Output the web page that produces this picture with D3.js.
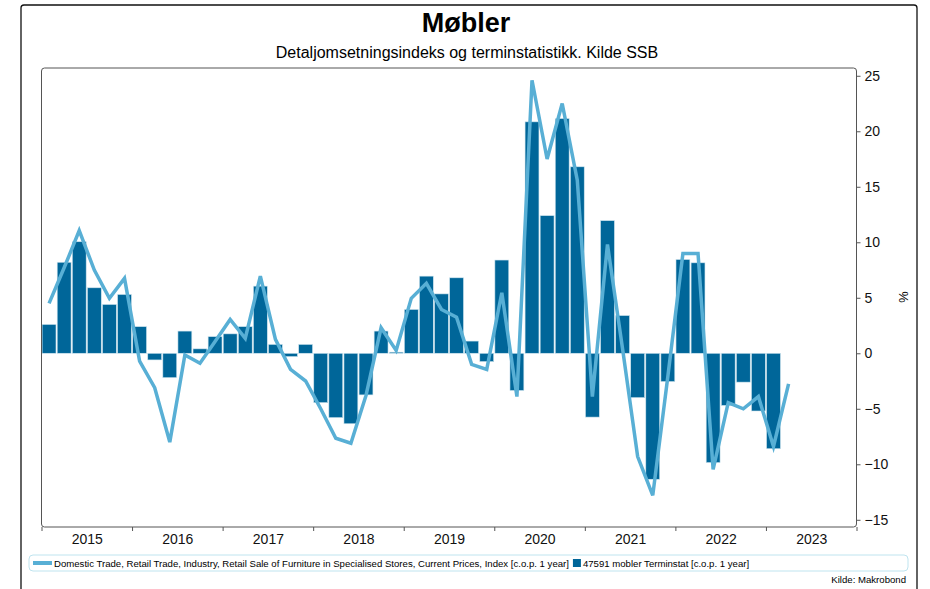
<!DOCTYPE html>
<html>
<head>
<meta charset="utf-8">
<script src="https://cdn.jsdelivr.net/npm/d3@7"></script>
<style>
  body { margin: 0; background: #fff; }
  svg { display: block; font-family: "Liberation Sans", Arial, sans-serif; }
</style>
</head>
<body>
<svg id="chart" width="930" height="589"></svg>
<script>
// years on the x axis (6 bimonthly periods per year)
const years = [2015, 2016, 2017, 2018, 2019, 2020, 2021, 2022, 2023];
const periodsPerYear = 6;

// 47591 mobler Terminstat [c.o.p. 1 year], from 2015 P1
const terminValues = [2.6, 8.2, 10.05, 5.9, 4.4, 5.3,
    2.4, -0.6, -2.2, 2.0, 0.4, 1.5,
    1.75, 2.4, 6.05, 0.8, -0.3, 0.8,
    -4.45, -5.8, -6.35, -3.75, 2.0, 0.1,
    3.95, 6.95, 5.35, 6.8, 1.1, -0.75,
    8.4, -3.35, 20.85, 12.4, 21.15, 16.8,
    -5.75, 11.95, 3.4, -4.0, -11.35, -2.55,
    8.45, 8.15, -9.85, -4.7, -2.6, -5.2,
    -8.6];

// Retail sale of furniture, index [c.o.p. 1 year], from 2015 P1
const indexValues = [4.5, 7.7, 11.05, 7.5, 4.95, 6.75,
    -0.7, -3.1, -8.0, -0.15, -0.9, 1.05,
    3.05, 1.35, 6.95, 1.25, -1.45, -2.5,
    -5.0, -7.65, -8.1, -3.8, 2.3, 0.25,
    4.95, 6.3, 3.95, 3.25, -1.0, -1.45,
    5.45, -3.9, 24.6, 17.5, 22.5, 15.6,
    -3.9, 9.8, 0.4, -9.3, -12.8, -2.1,
    9.0, 9.0, -10.45, -4.45, -5.0, -3.9,
    -8.4, -2.75];

const yTicks = [-15, -10, -5, 0, 5, 10, 15, 20, 25];

const legendLine = "Domestic Trade, Retail Trade, Industry, Retail Sale of Furniture in Specialised Stores, Current Prices, Index [c.o.p. 1 year]";
const legendBar = "47591 mobler Terminstat [c.o.p. 1 year]";

const barColor = "#006699";
const lineColor = "#58afd5";

let svg = d3.select("#chart");

// outer frame
svg.append("rect")
    .attr("x", 21).attr("y", 5)
    .attr("width", 896).attr("height", 600)
    .attr("rx", 3)
    .style("fill", "none")
    .style("stroke", "#111")
    .style("stroke-width", 1.3);

svg.append("text")
    .attr("x", 466).attr("y", 32)
    .attr("text-anchor", "middle")
    .style("font-size", "27px")
    .style("font-weight", "bold")
    .text("Møbler");

svg.append("text")
    .attr("x", 467).attr("y", 58)
    .attr("text-anchor", "middle")
    .style("font-size", "16px")
    .text("Detaljomsetningsindeks og terminstatistikk. Kilde SSB");

const plotLeft = 41.5, plotRight = 856.5, plotTop = 68, plotBottom = 527;

let x = d3.scaleLinear()
    .domain([0, years.length * periodsPerYear])
    .range([plotLeft, plotRight]);

let y = d3.scaleLinear()
    .domain([-15.65, 25.7])
    .range([plotBottom, plotTop]);

const bw = x(1) - x(0);

// bars
svg.append("g").selectAll("rect")
    .data(terminValues)
    .enter()
    .append("rect")
    .attr("x", function(d, i) { return x(i) + 0.6; })
    .attr("width", bw - 1.2)
    .attr("y", function(d) { return y(Math.max(0, d)); })
    .attr("height", function(d) { return Math.abs(y(d) - y(0)); })
    .style("fill", barColor)
    .style("stroke", "#cfe5ef")
    .style("stroke-width", 0.6);

// line
let line = d3.line()
    .x(function(d, i) { return x(i + 0.5); })
    .y(function(d) { return y(d); });

svg.append("path")
    .datum(indexValues)
    .attr("d", line)
    .style("fill", "none")
    .style("stroke", lineColor)
    .style("stroke-width", 3.5);

// plot frame
svg.append("rect")
    .attr("x", plotLeft).attr("y", plotTop)
    .attr("width", plotRight - plotLeft).attr("height", plotBottom - plotTop)
    .attr("rx", 3)
    .style("fill", "none")
    .style("stroke", "#555")
    .style("stroke-width", 1);

// y axis on right
let yAxis = d3.axisRight(y)
    .tickValues(yTicks)
    .tickSize(4)
    .tickPadding(4);

let gy = svg.append("g")
    .attr("transform", "translate(" + plotRight + ",0)")
    .call(yAxis);
gy.select(".domain").remove();
gy.selectAll("line").style("stroke", "#555");
gy.selectAll("text")
    .style("font-size", "14px")
    .style("fill", "#111")
    .style("font-family", "'Liberation Sans', Arial, sans-serif");

svg.append("text")
    .attr("transform", "translate(899,297) rotate(90)")
    .attr("text-anchor", "middle")
    .style("font-size", "13px")
    .text("%");

// x axis: year boundary ticks
let boundaries = d3.range(years.length + 1).map(function(k) { return k * periodsPerYear; });
let gxTicks = svg.append("g")
    .attr("transform", "translate(0," + plotBottom + ")")
    .call(d3.axisBottom(x).tickValues(boundaries).tickSize(4).tickFormat(""));
gxTicks.select(".domain").remove();
gxTicks.selectAll("line").style("stroke", "#555");

// x axis: year labels at the middle of each year
let gxLabels = svg.append("g")
    .attr("transform", "translate(0," + plotBottom + ")")
    .call(d3.axisBottom(x)
        .tickValues(years.map(function(d, k) { return k * periodsPerYear + periodsPerYear / 2; }))
        .tickSize(0)
        .tickPadding(7)
        .tickFormat(function(d) { return years[Math.floor(d / periodsPerYear)]; }));
gxLabels.select(".domain").remove();
gxLabels.selectAll("text")
    .style("font-size", "14px")
    .style("fill", "#111")
    .style("font-family", "'Liberation Sans', Arial, sans-serif");

// legend
svg.append("rect")
    .attr("x", 29).attr("y", 555)
    .attr("width", 879).attr("height", 16)
    .attr("rx", 4)
    .style("fill", "none")
    .style("stroke", "#bfe4ef")
    .style("stroke-width", 1);

svg.append("rect")
    .attr("x", 33).attr("y", 561)
    .attr("width", 19).attr("height", 4)
    .style("fill", lineColor);

let lt = svg.append("text")
    .attr("x", 54).attr("y", 566.5)
    .style("font-size", "9.6px")
    .text(legendLine);

let lw = lt.node().getComputedTextLength();

svg.append("rect")
    .attr("x", 54 + lw + 4).attr("y", 559)
    .attr("width", 8).attr("height", 8)
    .style("fill", barColor);

svg.append("text")
    .attr("x", 54 + lw + 14).attr("y", 566.5)
    .style("font-size", "9.6px")
    .text(legendBar);

svg.append("text")
    .attr("x", 906).attr("y", 583)
    .attr("text-anchor", "end")
    .style("font-size", "9.6px")
    .text("Kilde: Makrobond");
</script>
</body>
</html>
